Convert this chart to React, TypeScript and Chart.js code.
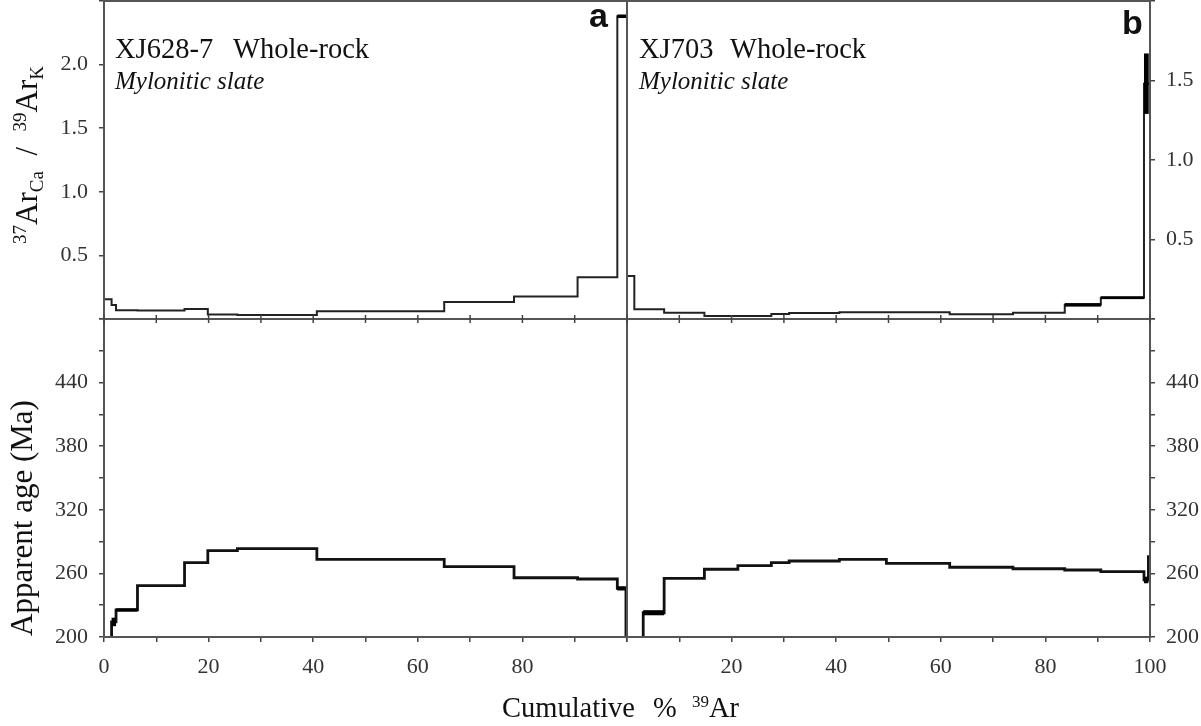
import React, { useEffect, useRef } from "react";
import { Chart, registerables } from "chart.js";
Chart.register(...registerables);

// ---------- DATA ----------
// Sample a: XJ628-7 whole-rock. Step boundaries (cumulative % 39Ar), start of each step + final 100
const cumA = [0, 1.45, 2.3, 6.4, 15.4, 19.85, 25.5, 40.7, 65.05, 78.4, 90.55, 98.15, 99.8, 100];
const caKA = [0.156, 0.11, 0.068, 0.066, 0.078, 0.036, 0.031, 0.06, 0.133, 0.177, 0.328, 2.38, 2.38];
const caKAErr = [0.004, 0.004, 0.002, 0.002, 0.002, 0.002, 0.002, 0.002, 0.003, 0.003, 0.003, 0.014, 0.014];
const ageA = [180, 214.2, 225.5, 248.4, 270.1, 281.4, 283.3, 273.3, 266.3, 255.9, 254.7, 245.9, 150];
const ageAErr = [1, 4, 1.6, 1, 1, 1, 1, 1, 1, 1, 1, 2, 1];

// Sample b: XJ703 whole-rock
const cumB = [0, 1.4, 3.1, 7.1, 14.8, 21.2, 27.6, 31, 40.6, 49.6, 61.7, 73.8, 83.7, 90.6, 98.85, 99.7, 100];
const caKB = [0.27, 0.061, 0.061, 0.04, 0.019, 0.019, 0.031, 0.038, 0.042, 0.042, 0.03, 0.04, 0.089, 0.134, 1.48, 1.48];
const caKBErr = [0.006, 0.006, 0.004, 0.002, 0.002, 0.002, 0.002, 0.002, 0.002, 0.002, 0.002, 0.005, 0.011, 0.009, 0.19, 0.19];
const ageB = [180, 190, 222.9, 255.4, 263.9, 267.3, 270.1, 271.7, 273.3, 269.5, 265.8, 264.4, 263.2, 261.6, 253.8, 275.8];
const ageBErr = [1, 1, 2.4, 1, 1, 1, 1, 1, 1, 1, 1, 1, 1, 1, 3.1, 1];

// Axis ranges / tick steps
const xRange = [0, 100];
const xStep = 10;
const caKARange = [0, 2.5];
const caKBRange = [0, 2.0];
const caKStep = 0.5;
const ageRange = [200, 500];
const ageStep = 30;

const SERIF = "'Liberation Serif', 'Times New Roman', serif";
const SANS = "'Liberation Sans', Arial, sans-serif";

type Series = { x: string; y: string; cum: number[]; vals: number[]; err: number[]; width: number; color: string };
const series: Series[] = [
  { x: "xA", y: "yAtop", cum: cumA, vals: caKA, err: caKAErr, width: 2, color: "#222" },
  { x: "xA", y: "yAbot", cum: cumA, vals: ageA, err: ageAErr, width: 2.8, color: "#111" },
  { x: "xB", y: "yBtop", cum: cumB, vals: caKB, err: caKBErr, width: 2, color: "#222" },
  { x: "xB", y: "yBbot", cum: cumB, vals: ageB, err: ageBErr, width: 2.8, color: "#111" },
];

function stepPoints(cum: number[], vals: number[]) {
  const pts = vals.map((v, i) => ({ x: cum[i], y: v }));
  pts.push({ x: cum[cum.length - 1], y: vals[vals.length - 1] });
  return pts;
}

function near(v: number, m: number) {
  const q = v / m;
  return Math.abs(q - Math.round(q)) < 1e-6;
}

type Run = { t: string; font: string; dy?: number };
function drawRuns(ctx: CanvasRenderingContext2D, runs: Run[], x: number, y: number, align: "left" | "center") {
  let w = 0;
  runs.forEach((r) => {
    ctx.font = r.font;
    w += ctx.measureText(r.t).width;
  });
  let cx = align === "center" ? x - w / 2 : x;
  ctx.textAlign = "left";
  ctx.textBaseline = "alphabetic";
  runs.forEach((r) => {
    ctx.font = r.font;
    ctx.fillText(r.t, cx, y + (r.dy || 0));
    cx += ctx.measureText(r.t).width;
  });
}

const errorBoxPlugin = {
  id: "errorBoxes",
  afterDatasetsDraw(chart: any) {
    const ctx: CanvasRenderingContext2D = chart.ctx;
    series.forEach((s) => {
      const xs = chart.scales[s.x];
      const ys = chart.scales[s.y];
      ctx.save();
      ctx.beginPath();
      ctx.rect(xs.left, ys.top, xs.right - xs.left, ys.bottom - ys.top);
      ctx.clip();
      ctx.fillStyle = "#000";
      s.vals.forEach((v, i) => {
        const e = s.err[i];
        if (!e) return;
        const x0 = xs.getPixelForValue(s.cum[i]);
        const x1 = xs.getPixelForValue(s.cum[i + 1]);
        const y0 = ys.getPixelForValue(v + e);
        const y1 = ys.getPixelForValue(v - e);
        if (y1 - y0 > s.width) ctx.fillRect(x0, y0, x1 - x0, y1 - y0);
      });
      ctx.restore();
    });
  },
};

const framePlugin = {
  id: "frame",
  afterDraw(chart: any) {
    const ctx: CanvasRenderingContext2D = chart.ctx;
    const a = chart.chartArea;
    const xA = chart.scales.xA;
    const xB = chart.scales.xB;
    const yAtop = chart.scales.yAtop;
    ctx.save();
    ctx.strokeStyle = "#555";
    ctx.lineWidth = 2;
    ctx.strokeRect(a.left, a.top, a.right - a.left, a.bottom - a.top);
    // middle horizontal divider
    const ym = yAtop.bottom;
    ctx.beginPath();
    ctx.moveTo(a.left, ym);
    ctx.lineTo(a.right, ym);
    // vertical divider
    ctx.moveTo(xA.right, a.top);
    ctx.lineTo(xA.right, a.bottom);
    ctx.stroke();
    // ticks on the middle line
    ctx.strokeStyle = "#444";
    ctx.lineWidth = 1.5;
    ctx.beginPath();
    [xA, xB].forEach((s: any) => {
      s.ticks.forEach((t: any) => {
        const px = s.getPixelForValue(t.value);
        ctx.moveTo(px, ym - 4);
        ctx.lineTo(px, ym + 4);
      });
    });
    ctx.stroke();

    // ---------- texts ----------
    ctx.fillStyle = "#111";
    const top = a.top;
    // Panel a
    drawRuns(ctx, [{ t: "XJ628-7", font: `28.5px ${SERIF}` }], xA.left + 11, top + 57, "left");
    drawRuns(ctx, [{ t: "Whole-rock", font: `28.5px ${SERIF}` }], xA.left + 129, top + 57, "left");
    drawRuns(ctx, [{ t: "Mylonitic slate", font: `italic 25px ${SERIF}` }], xA.left + 11, top + 88, "left");
    // Panel b
    drawRuns(ctx, [{ t: "XJ703", font: `28.5px ${SERIF}` }], xB.left + 12, top + 57, "left");
    drawRuns(ctx, [{ t: "Whole-rock", font: `28.5px ${SERIF}` }], xB.left + 103, top + 57, "left");
    drawRuns(ctx, [{ t: "Mylonitic slate", font: `italic 25px ${SERIF}` }], xB.left + 12, top + 88, "left");
    // panel letters
    drawRuns(ctx, [{ t: "a", font: `bold 34px ${SANS}` }], xA.right - 38, top + 26, "left");
    drawRuns(ctx, [{ t: "b", font: `bold 34px ${SANS}` }], xB.right - 28, top + 33, "left");

    // y title top (rotated)
    ctx.save();
    ctx.translate(37, (yAtop.top + yAtop.bottom) / 2 - 5);
    ctx.rotate(-Math.PI / 2);
    drawRuns(
      ctx,
      [
        { t: "37", font: `19px ${SERIF}`, dy: -11 },
        { t: "Ar", font: `31px ${SERIF}` },
        { t: "Ca", font: `19px ${SERIF}`, dy: 6 },
        { t: "  /  ", font: `31px ${SERIF}` },
        { t: "39", font: `19px ${SERIF}`, dy: -11 },
        { t: "Ar", font: `31px ${SERIF}` },
        { t: "K", font: `19px ${SERIF}`, dy: 6 },
      ],
      0,
      0,
      "center"
    );
    ctx.restore();

    // y title bottom (rotated)
    const yAbot = chart.scales.yAbot;
    ctx.save();
    ctx.translate(32, (yAbot.top + yAbot.bottom) / 2 + 40);
    ctx.rotate(-Math.PI / 2);
    drawRuns(ctx, [{ t: "Apparent age (Ma)", font: `31px ${SERIF}` }], 0, 0, "center");
    ctx.restore();

    // x title
    const mid = xA.right;
    const by = a.bottom + 80;
    drawRuns(ctx, [{ t: "Cumulative", font: `28.5px ${SERIF}` }], mid - 125, by, "left");
    drawRuns(ctx, [{ t: "%", font: `28.5px ${SERIF}` }], mid + 26, by, "left");
    drawRuns(
      ctx,
      [
        { t: "39", font: `17px ${SERIF}`, dy: -10 },
        { t: "Ar", font: `28.5px ${SERIF}` },
      ],
      mid + 65,
      by,
      "left"
    );
    ctx.restore();
  },
};

const tickFont = { family: SERIF, size: 22 };
const grid = { drawOnChartArea: false, drawTicks: true, tickLength: 5, color: "#444", lineWidth: 1.5 };
const border = { display: true, color: "#555", width: 2 };
const fitV = (w: number) => (s: any) => {
  s.width = w;
  s.paddingTop = 0;
  s.paddingBottom = 0;
};
const fitH = (h: number) => (s: any) => {
  s.height = h;
  s.paddingLeft = 0;
  s.paddingRight = 0;
};

export default function App() {
  const ref = useRef<HTMLCanvasElement | null>(null);
  useEffect(() => {
    if (!ref.current) return;
    const chart = new Chart(ref.current, {
      type: "line",
      data: {
        datasets: series.map((s) => ({
          data: stepPoints(s.cum, s.vals),
          xAxisID: s.x,
          yAxisID: s.y,
          stepped: true,
          borderColor: s.color,
          borderWidth: s.width,
          pointRadius: 0,
          fill: false,
          tension: 0,
          borderJoinStyle: "miter" as const,
        })),
      },
      plugins: [errorBoxPlugin, framePlugin],
      options: {
        animation: false,
        responsive: true,
        maintainAspectRatio: false,
        layout: { padding: { top: 1, left: 0, right: 0, bottom: 0 } },
        plugins: { legend: { display: false }, tooltip: { enabled: false }, title: { display: false } },
        scales: {
          xA: {
            type: "linear",
            position: "bottom",
            stack: "bottom",
            stackWeight: 1,
            weight: 0,
            min: xRange[0],
            max: xRange[1],
            ticks: {
              stepSize: xStep,
              autoSkip: false,
              maxRotation: 0,
              font: tickFont,
              color: "#333",
              padding: 12,
              callback: (v: any) => (near(v, 20) && v < 100 ? String(Math.round(v)) : ""),
            },
            grid,
            border,
            afterFit: fitH(89),
          },
          xB: {
            type: "linear",
            position: "bottom",
            stack: "bottom",
            stackWeight: 1,
            weight: 1,
            min: xRange[0],
            max: xRange[1],
            ticks: {
              stepSize: xStep,
              autoSkip: false,
              maxRotation: 0,
              font: tickFont,
              color: "#333",
              padding: 12,
              callback: (v: any) => (near(v, 20) && v > 0 ? String(Math.round(v)) : ""),
            },
            grid,
            border,
            afterFit: fitH(89),
          },
          yAtop: {
            type: "linear",
            position: "left",
            stack: "left",
            stackWeight: 1,
            weight: 1,
            min: caKARange[0],
            max: caKARange[1],
            ticks: {
              stepSize: caKStep,
              autoSkip: false,
              font: tickFont,
              color: "#333",
              padding: 11,
              callback: (v: any) => (v > 0.01 && v < 2.49 ? Number(v).toFixed(1) : ""),
            },
            grid,
            border,
            afterFit: fitV(104),
          },
          yAbot: {
            type: "linear",
            position: "left",
            stack: "left",
            stackWeight: 1,
            weight: 0,
            min: ageRange[0],
            max: ageRange[1],
            ticks: {
              stepSize: ageStep,
              autoSkip: false,
              font: tickFont,
              color: "#333",
              padding: 11,
              callback: (v: any) => (near(v - 200, 60) && v < 499 ? String(Math.round(v)) : ""),
            },
            grid,
            border,
            afterFit: fitV(104),
          },
          yBtop: {
            type: "linear",
            position: "right",
            stack: "right",
            stackWeight: 1,
            weight: 0,
            min: caKBRange[0],
            max: caKBRange[1],
            ticks: {
              stepSize: caKStep,
              autoSkip: false,
              font: tickFont,
              color: "#333",
              padding: 11,
              callback: (v: any) => (v > 0.01 && v < 1.99 ? Number(v).toFixed(1) : ""),
            },
            grid,
            border,
            afterFit: fitV(51),
          },
          yBbot: {
            type: "linear",
            position: "right",
            stack: "right",
            stackWeight: 1,
            weight: 1,
            min: ageRange[0],
            max: ageRange[1],
            ticks: {
              stepSize: ageStep,
              autoSkip: false,
              font: tickFont,
              color: "#333",
              padding: 11,
              callback: (v: any) => (near(v - 200, 60) && v < 499 ? String(Math.round(v)) : ""),
            },
            grid,
            border,
            afterFit: fitV(51),
          },
        } as any,
      },
    });
    return () => chart.destroy();
  }, []);

  return (
    <div style={{ position: "absolute", left: 0, top: 0, width: 1201, height: 726, background: "#fff" }}>
      <canvas ref={ref} />
    </div>
  );
}
